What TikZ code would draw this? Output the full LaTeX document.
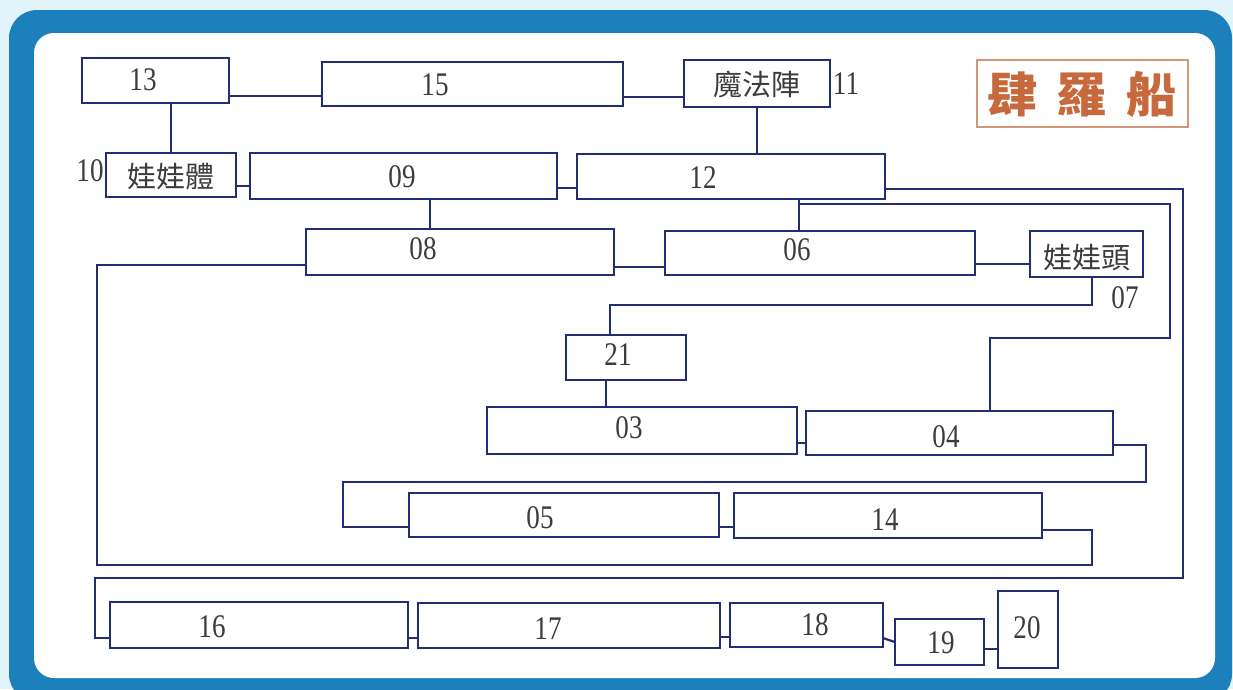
\documentclass[tikz,border=0pt]{standalone}
\usepackage{fontspec}
\setmainfont{Liberation Serif}
\newfontfamily\numfont{Liberation Serif}[FakeStretch=0.82]
\newfontfamily\cjk{Noto Sans CJK TC}
\newfontfamily\titlefont{Noto Sans CJK TC}[FakeStretch=1.05]
\usetikzlibrary{fit}
\definecolor{navy}{RGB}{35,45,115}
\definecolor{txtgray}{RGB}{60,60,60}
\definecolor{bgcol}{RGB}{226,244,251}
\definecolor{framecol}{RGB}{28,128,188}
\definecolor{titlecol}{RGB}{198,106,62}
\definecolor{titleborder}{RGB}{212,150,118}
\begin{document}
\begin{tikzpicture}[x=1pt,y=-1pt,
  bx/.style={draw=navy,line width=2.6pt,fill=white,inner sep=0pt,outer sep=0pt},
  num/.style={font=\numfont\fontsize{33}{33}\selectfont,text=txtgray,inner sep=0pt},
  cj/.style={font=\cjk\fontsize{29}{29}\selectfont,text=txtgray,inner sep=0pt},
  wire/.style={draw=navy,line width=2.2pt,line join=miter}]
\useasboundingbox (0,0) rectangle (1233,689);
\begin{scope}
\clip (0,0) rectangle (1233,689);
\fill[bgcol] (0,0) rectangle (1233,689);
\fill[framecol,rounded corners=28pt] (9,10) rectangle (1232,702);
\fill[white,rounded corners=20pt] (34,33) rectangle (1215,678);
\end{scope}

% boxes
\node[bx,fit={(82,58)(229,103)}] (n13) {};
\node[bx,fit={(322,62)(623,106)}] (n15) {};
\node[bx,fit={(684,60)(830,107)}] (n11) {};
\node[bx,fit={(106,153)(236,197)}] (n10) {};
\node[bx,fit={(250,153)(557,199)}] (n09) {};
\node[bx,fit={(577,154)(885,199)}] (n12) {};
\node[bx,fit={(306,229)(614,275)}] (n08) {};
\node[bx,fit={(665,231)(975,275)}] (n06) {};
\node[bx,fit={(1030,231)(1143,277)}] (n07) {};
\node[bx,fit={(566,335)(686,380)}] (n21) {};
\node[bx,fit={(487,407)(797,454)}] (n03) {};
\node[bx,fit={(806,411)(1113,455)}] (n04) {};
\node[bx,fit={(409,493)(719,537)}] (n05) {};
\node[bx,fit={(734,493)(1042,538)}] (n14) {};
\node[bx,fit={(110,602)(408,648)}] (n16) {};
\node[bx,fit={(418,603)(720,648)}] (n17) {};
\node[bx,fit={(730,603)(883,647)}] (n18) {};
\node[bx,fit={(895,619)(984,665)}] (n19) {};
\node[bx,fit={(998,591)(1058,668)}] (n20) {};

% texts
\node[num] (t13) at (143,80) {13};
\node[num] (t15) at (435,85) {15};
\node[cj]  (t11) at (757,84) {魔法陣};
\node[num] (l11) at (846,84) {11};
\node[cj]  (t10) at (171,177) {娃娃體};
\node[num] (l10) at (90,171) {10};
\node[num] (t09) at (402,177) {09};
\node[num] (t12) at (703,178) {12};
\node[num] (t08) at (423,249) {08};
\node[num] (t06) at (797,250) {06};
\node[cj]  (t07) at (1087,258) {娃娃頭};
\node[num] (l07) at (1125,298) {07};
\node[num] (t21) at (618,355) {21};
\node[num] (t03) at (629,428) {03};
\node[num] (t04) at (946,437) {04};
\node[num] (t05) at (540,518) {05};
\node[num] (t14) at (885,520) {14};
\node[num] (t16) at (212,627) {16};
\node[num] (t17) at (548,629) {17};
\node[num] (t18) at (815,625) {18};
\node[num] (t19) at (941,643) {19};
\node[num] (t20) at (1027,628) {20};

% title
\node[draw=titleborder,line width=1.2pt,inner sep=0pt,fit={(977,60)(1188,127)}] (title) {};
\node[font=\titlefont\bfseries\fontsize{48}{48}\selectfont,text=titlecol,inner sep=0pt] (ttext) at (1082,94) {肆\hspace{19pt}羅\hspace{19pt}船};

% level / column coordinates
\coordinate (h96) at (0,96);
\coordinate (h97) at (0,97);
\coordinate (h186) at (0,186);
\coordinate (h188) at (0,188);
\coordinate (h264) at (0,264);
\coordinate (h267) at (0,267);
\coordinate (h443) at (0,443);
\coordinate (h527) at (0,527);
\coordinate (h637) at (0,637);
\coordinate (h638) at (0,638);
\coordinate (h642) at (0,642);
\coordinate (h649) at (0,649);
\coordinate (v171) at (171,0);
\coordinate (v430) at (430,0);
\coordinate (v606) at (606,0);
\coordinate (v757) at (757,0);

% simple links
\draw[wire] (n13.east |- h96) -- (n15.west |- h96);
\draw[wire] (n15.east |- h97) -- (n11.west |- h97);
\draw[wire] (n13.south -| v171) -- (n10.north -| v171);
\draw[wire] (n10.east |- h186) -- (n09.west |- h186);
\draw[wire] (n09.east |- h188) -- (n12.west |- h188);
\draw[wire] (n11.south -| v757) -- (n12.north -| v757);
\draw[wire] (n09.south -| v430) -- (n08.north -| v430);
\draw[wire] (n08.east |- h267) -- (n06.west |- h267);
\draw[wire] (n06.east |- h264) -- (n07.west |- h264);
\draw[wire] (n21.south -| v606) -- (n03.north -| v606);
\draw[wire] (n03.east |- h443) -- (n04.west |- h443);
\draw[wire] (n05.east |- h527) -- (n14.west |- h527);
\draw[wire] (n16.east |- h638) -- (n17.west |- h638);
\draw[wire] (n17.east |- h637) -- (n18.west |- h637);
\draw[wire] (n18.east |- h638) -- (n19.west |- h642);
\draw[wire] (n19.east |- h649) -- (n20.west |- h649);

% 12 -> 16
\coordinate (a1) at (1183,189);
\coordinate (a2) at (1183,578);
\coordinate (a3) at (95,578);
\coordinate (a4) at (95,638);
\draw[wire] (n12.east |- a1) -- (a1) -- (a2) -- (a3) -- (a4) -- (n16.west |- a4);

% 12 -> 06 and -> 04
\coordinate (b1) at (799,204);
\coordinate (b2) at (1170,204);
\coordinate (b3) at (1170,338);
\coordinate (b4) at (990,338);
\draw[wire] (n12.south -| b1) -- (n06.north -| b1);
\draw[wire] (b1) -- (b2) -- (b3) -- (b4) -- (n04.north -| b4);

% 08 -> 14
\coordinate (c1) at (97,265);
\coordinate (c2) at (97,565);
\coordinate (c3) at (1092,565);
\coordinate (c4) at (1092,530);
\draw[wire] (n08.west |- c1) -- (c1) -- (c2) -- (c3) -- (c4) -- (n14.east |- c4);

% 07 -> 21
\coordinate (d1) at (1092,305);
\coordinate (d2) at (610,305);
\draw[wire] (n07.south -| d1) -- (d1) -- (d2) -- (n21.north -| d2);

% 04 -> 05
\coordinate (e1) at (1146,445);
\coordinate (e2) at (1146,482);
\coordinate (e3) at (343,482);
\coordinate (e4) at (343,527);
\draw[wire] (n04.east |- e1) -- (e1) -- (e2) -- (e3) -- (e4) -- (n05.west |- e4);
\end{tikzpicture}
\end{document}
